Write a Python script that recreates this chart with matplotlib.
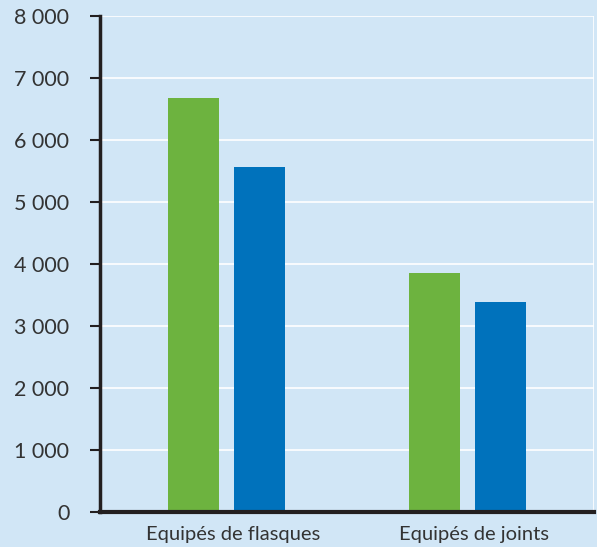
import matplotlib
matplotlib.use("Agg")
import matplotlib.pyplot as plt
import matplotlib.transforms as mtransforms
from matplotlib.ticker import FuncFormatter

BG = "#d1e6f6"
GREEN = "#6db33f"
BLUE = "#0072bc"
TEXT = "#333333"

categories = ["Equipés de flasques", "Equipés de joints"]
green_values = [6670, 3850]
blue_values = [5560, 3380]
y_ticks = [0, 1000, 2000, 3000, 4000, 5000, 6000, 7000, 8000]


def thousands(v, pos):
    return "{:,.0f}".format(v).replace(",", " ")


def main():
    plt.rcParams["font.family"] = ["Lato", "DejaVu Sans"]
    fig = plt.figure(figsize=(5.97, 5.47), dpi=100, facecolor=BG)
    ax = fig.add_axes([100 / 597, 35 / 547, 494 / 597, 496 / 547])
    ax.set_facecolor(BG)

    x = list(range(len(categories)))
    w = 0.212
    off = 0.137
    ax.bar([i - off for i in x], green_values, w, color=GREEN, zorder=3)
    ax.bar([i + off for i in x], blue_values, w, color=BLUE, zorder=3)

    ax.set_xlim(-0.525, 1.525)
    ax.set_ylim(0, 8000)
    ax.set_yticks(y_ticks)
    ax.yaxis.set_major_formatter(FuncFormatter(thousands))
    ax.set_xticks(x)
    ax.set_xticklabels(categories)

    ax.grid(axis="y", color="white", linewidth=1.2, zorder=1)
    ax.axvline(1.525, color="white", linewidth=1.2, zorder=1)

    for side in ("top", "right"):
        ax.spines[side].set_visible(False)
    ax.spines["left"].set_linewidth(2.5)
    ax.spines["left"].set_color("#231f20")
    ax.spines["bottom"].set_linewidth(3)
    ax.spines["bottom"].set_color("#231f20")
    ax.spines["left"].set_zorder(4)
    ax.spines["bottom"].set_zorder(4)

    ax.tick_params(axis="y", length=7, width=1.5, color="#231f20",
                   labelsize=15.5, labelcolor=TEXT, pad=15)
    ax.tick_params(axis="x", length=0, labelsize=14.5, labelcolor=TEXT, pad=10)

    # labels sit a little right of the bar pairs in the original
    shift = mtransforms.ScaledTranslation(7 / 100, 0, fig.dpi_scale_trans)
    for lab in ax.get_xticklabels():
        lab.set_transform(lab.get_transform() + shift)

    fig.savefig("out.png", dpi=100, facecolor=BG)


if __name__ == "__main__":
    main()
